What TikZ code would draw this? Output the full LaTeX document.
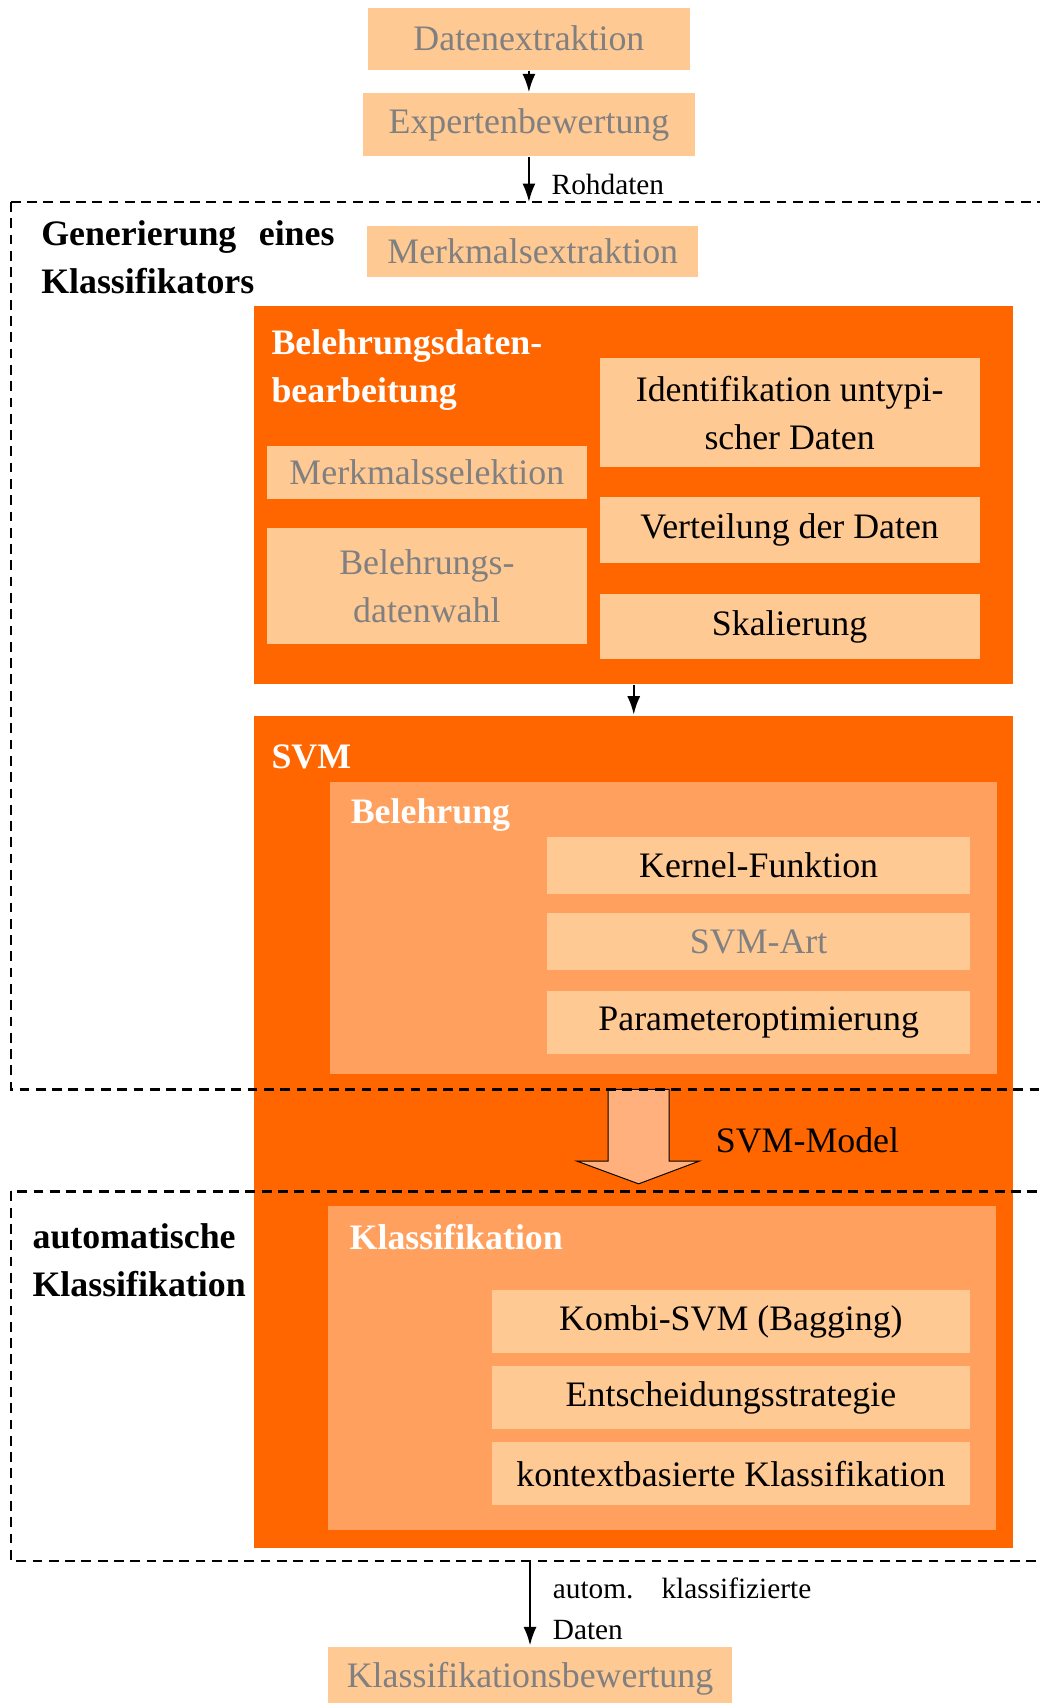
\documentclass[tikz,border=0pt]{standalone}
\usepackage{fontspec}
\setmainfont{Liberation Serif}
\usepackage{xcolor}
\usetikzlibrary{arrows.meta}

\definecolor{vorange}{HTML}{FF6600}
\definecolor{peach}{HTML}{FFC994}
\definecolor{apricot}{HTML}{FFA05E}
\definecolor{salmon}{HTML}{FFB07C}
\definecolor{greytext}{HTML}{808080}

\begin{document}
\begin{tikzpicture}[x=1pt, y=-1pt, >={Latex[length=17pt,width=12pt]}, line width=2pt,
  box/.style={fill=peach, inner sep=0pt, align=center, font=\fontsize{33}{44}\selectfont},
  grey/.style={text=greytext},
  panel/.style={fill=vorange, inner sep=0pt},
  subpanel/.style={fill=apricot, inner sep=0pt},
  ttl/.style={anchor=west, inner sep=0pt, align=left, text=white, font=\fontsize{33}{44}\selectfont\bfseries},
  region/.style={draw, dash pattern=on 9pt off 6pt, line width=2.2pt},
  rttl/.style={anchor=west, inner sep=0pt, align=left, font=\fontsize{33}{44}\selectfont\bfseries},
  lbl/.style={inner sep=0pt, font=\fontsize{27}{38}\selectfont}]
  \useasboundingbox (0,0) rectangle (957,1568);

  % vorverarbeitung
  \node [box, grey, minimum width=297pt, minimum height=57pt] (datex) at (487,35.5) {Datenextraktion};
  \node [box, grey, minimum width=305pt, minimum height=58pt] (expert) at (487,115) {Expertenbewertung};
  \node [box, grey, minimum width=305pt, minimum height=47pt] (merkex) at (490.5,231.5) {Merkmalsextraktion};

  % belehrungsdatenbearbeitung
  \node [panel, minimum width=699pt, minimum height=348pt] (bdb) at (583.5,456) {};
  \node [ttl] (bdbttl) at (249,341) {Belehrungsdaten-\\bearbeitung};
  \node [box, grey, minimum width=294pt, minimum height=48pt] (merksel) at (393,435) {Merkmalsselektion};
  \node [box, grey, minimum width=294pt, minimum height=107pt] (datwahl) at (393,539.5) {Belehrungs-\\datenwahl};
  \node [box, minimum width=350pt, minimum height=100pt] (ident) at (727,380) {Identifikation untypi-\\scher Daten};
  \node [box, minimum width=350pt, minimum height=60pt] (vert) at (727,488) {Verteilung der Daten};
  \node [box, minimum width=350pt, minimum height=60pt] (skal) at (727,577) {Skalierung};

  % svm
  \node [panel, minimum width=699pt, minimum height=766pt] (svm) at (583.5,1042) {};
  \node [ttl] (svmttl) at (249,697) {SVM};
  \node [subpanel, minimum width=614pt, minimum height=269pt] (lern) at (611,854.5) {};
  \node [ttl] (lernttl) at (322,750) {Belehrung};
  \node [box, minimum width=389pt, minimum height=52pt] (kernel) at (698.5,797) {Kernel-Funktion};
  \node [box, grey, minimum width=389pt, minimum height=52pt] (svmart) at (698.5,867) {SVM-Art};
  \node [box, minimum width=389pt, minimum height=58pt] (param) at (698.5,941) {Parameteroptimierung};

  \filldraw [fill=salmon, line width=0.9pt] (560,1003) -- (616,1003) -- (616,1069) -- (644,1069)
    -- (588,1090) -- (531,1069) -- (560,1069) -- cycle;
  \node [inner sep=0pt, font=\fontsize{33}{44}\selectfont] (model) at (743.5,1050) {SVM-Model};

  \node [subpanel, minimum width=615pt, minimum height=299pt] (klass) at (609.5,1259.5) {};
  \node [ttl] (klassttl) at (321,1139) {Klassifikation};
  \node [box, minimum width=440pt, minimum height=58pt] (kombi) at (673,1217) {Kombi-SVM (Bagging)};
  \node [box, minimum width=440pt, minimum height=58pt] (entsch) at (673,1287) {Entscheidungsstrategie};
  \node [box, minimum width=440pt, minimum height=58pt] (kontext) at (673,1357) {kontextbasierte Klassifikation};

  \node [box, grey, minimum width=372pt, minimum height=60pt] (kbew) at (488,1546) {Klassifikationsbewertung};

  % bereiche
  \draw [region] (10,186) rectangle (975,1003);
  \draw [region] (10,1097) rectangle (975,1437);
  \node [rttl, text width=270pt] (genttl) at (37,237) {Generierung\hfill eines\\Klassifikators};
  \node [rttl, text width=200pt] (autottl) at (29,1160) {automatische\\Klassifikation};

  \coordinate (rohin) at (487,186);
  \coordinate (autoout) at (488,1437);

  \draw [->] (datex) -- (expert);
  \draw [->] (expert) -- (rohin) node [lbl, pos=0.6, right=20pt] (rohlbl) {Rohdaten};
  \draw [->] (bdb) -- (svm);
  \draw [->] (autoout) -- (kbew) node [lbl, pos=0.57, right=20pt, text width=238pt, align=left] (autolbl) {autom.\hfill klassifizierte\\Daten};
\end{tikzpicture}
\end{document}
